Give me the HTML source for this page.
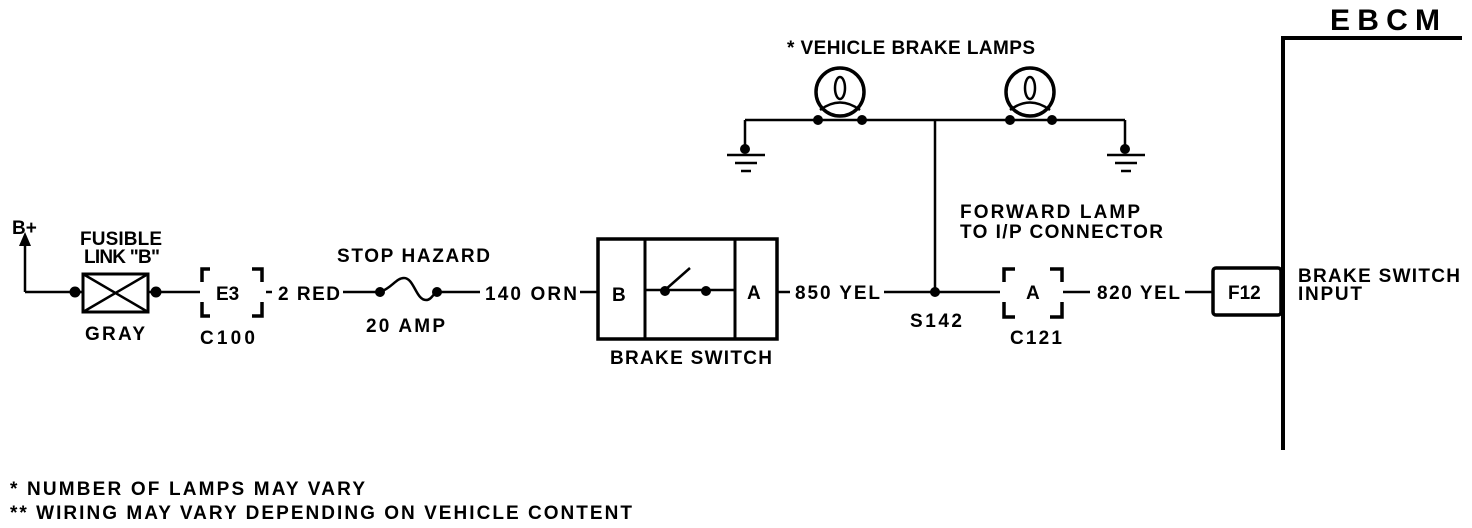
<!DOCTYPE html>
<html><head><style>
body{margin:0;background:#fff}
svg{display:block}
text{font-family:"Liberation Sans",sans-serif;font-weight:bold;fill:#000}
</style></head><body>
<svg width="1472" height="528" viewBox="0 0 1472 528" xmlns="http://www.w3.org/2000/svg">
<g stroke="#000" fill="none" stroke-width="2.5">
<path d="M25 292 V240"/>
<path d="M25 292 H83"/>
<path d="M148 292 H200"/>
<path d="M266 292 H272"/>
<path d="M343 292 H380 C392 288 396 278 404 278 C414 278 416 300 426 300 C432 300 434 292 437 292 H480"/>
<path d="M580 292 H597"/>
<path d="M778 292 H790"/>
<path d="M884 292 H1000"/>
<path d="M1063 292 H1090"/>
<path d="M1185 292 H1213"/>
<rect x="83" y="274" width="65" height="38" stroke-width="3"/>
<path d="M83 274 L148 312 M148 274 L83 312"/>
<path d="M210 269 H202 V282 M202 302 V316 H210 M252 269 H262 V282 M262 302 V316 H252" stroke-width="3.5"/>
<rect x="598" y="239" width="179" height="100" stroke-width="3.5"/>
<path d="M645 239 V339 M735 239 V339" stroke-width="3"/>
<path d="M645 290 H735"/>
<path d="M665 290 L690 268"/>
<path d="M745 120 H1125 M745 120 V150 M1125 120 V150 M935 120 V292"/>
<path d="M727 155 H765 M735 163 H757 M741 171 H751 M1107 155 H1145 M1115 163 H1137 M1121 171 H1131"/>
<circle cx="840" cy="92" r="24" stroke-width="3.5"/>
<circle cx="1030" cy="92" r="24" stroke-width="3.5"/>
<ellipse cx="840" cy="88" rx="5" ry="11"/>
<ellipse cx="1030" cy="88" rx="5" ry="11"/>
<path d="M820 110 Q840 95 860 110 M1010 110 Q1030 95 1050 110"/>
<path d="M1015 269 H1004 V282 M1004 302 V317 H1015 M1050 269 H1062 V282 M1062 302 V317 H1050" stroke-width="3.5"/>
<rect x="1213" y="268" width="68" height="47" stroke-width="3.5" rx="3"/>
<path d="M1283 450 V38 H1462" stroke-width="4"/>
</g>
<g fill="#000">
<path d="M25 232 L19 246 L31 246 Z"/>
<circle cx="75" cy="292" r="5.5"/><circle cx="156" cy="292" r="5.5"/>
<circle cx="380" cy="292" r="5"/><circle cx="437" cy="292" r="5"/>
<circle cx="665" cy="291" r="5"/><circle cx="706" cy="291" r="5"/>
<circle cx="935" cy="292" r="5"/>
<circle cx="818" cy="120" r="5"/><circle cx="862" cy="120" r="5"/>
<circle cx="1010" cy="120" r="5"/><circle cx="1052" cy="120" r="5"/>
<circle cx="745" cy="149" r="5"/><circle cx="1125" cy="149" r="5"/>
</g>
<g font-size="19" lengthAdjust="spacing">
<text x="12" y="234">B+</text>
<text x="80" y="245" textLength="82">FUSIBLE</text>
<text x="84" y="263" textLength="76">LINK "B"</text>
<text x="85" y="340" textLength="60">GRAY</text>
<text x="216" y="300">E3</text>
<text x="200" y="344" textLength="55">C100</text>
<text x="278" y="300" textLength="62">2 RED</text>
<text x="337" y="262" textLength="153">STOP HAZARD</text>
<text x="366" y="332" textLength="79">20 AMP</text>
<text x="485" y="300" textLength="92">140 ORN</text>
<text x="612" y="301">B</text>
<text x="747" y="299">A</text>
<text x="610" y="364" textLength="162">BRAKE SWITCH</text>
<text x="795" y="299" textLength="85">850 YEL</text>
<text x="910" y="327" textLength="52">S142</text>
<text x="787" y="54" textLength="248">* VEHICLE BRAKE LAMPS</text>
<text x="960" y="218" textLength="180">FORWARD LAMP</text>
<text x="960" y="238" textLength="203">TO I/P CONNECTOR</text>
<text x="1026" y="299">A</text>
<text x="1010" y="344" textLength="52">C121</text>
<text x="1097" y="299" textLength="83">820 YEL</text>
<text x="1228" y="299">F12</text>
<text x="1298" y="282" textLength="162">BRAKE SWITCH</text>
<text x="1298" y="300" textLength="64">INPUT</text>
<text x="10" y="495" textLength="355">* NUMBER OF LAMPS MAY VARY</text>
<text x="10" y="519" textLength="622">** WIRING MAY VARY DEPENDING ON VEHICLE CONTENT</text>
</g>
<text x="1330" y="30" font-size="30" textLength="110" lengthAdjust="spacing">EBCM</text>
</svg>
</body></html>
